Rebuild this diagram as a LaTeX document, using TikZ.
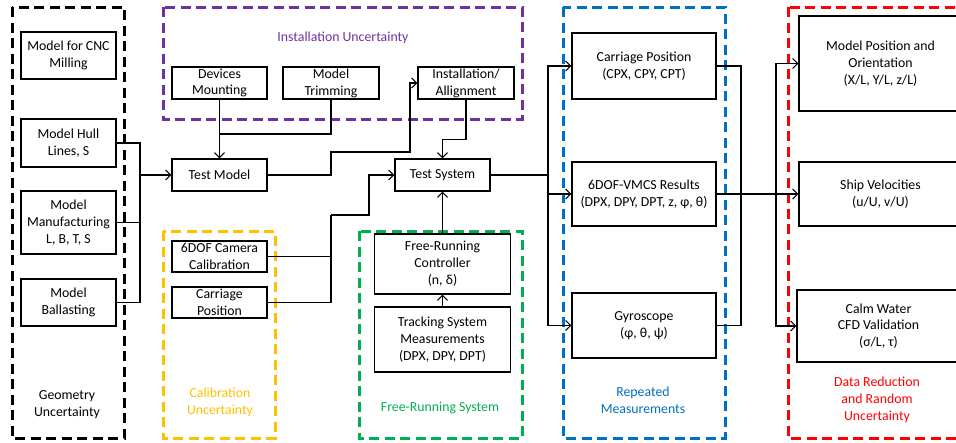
\documentclass[tikz,border=0pt]{standalone}
\usepackage{fontspec}
\setmainfont{Carlito}
\usetikzlibrary{arrows.meta}
\definecolor{cpurple}{HTML}{7030A0}
\definecolor{cyellow}{HTML}{FFC000}
\definecolor{cgreen}{HTML}{00B050}
\definecolor{cblue}{HTML}{0070C0}
\definecolor{cred}{HTML}{FF0000}
\tikzset{
  bx/.style={draw, line width=1.3pt, align=center, inner sep=0pt, font=\fontsize{13.8}{16.8}\selectfont},
  grp/.style={line width=3pt, dash pattern=on 10pt off 5.5pt},
  lbl/.style={align=center, font=\fontsize{13.8}{16.8}\selectfont},
  conn/.style={line width=1.3pt},
  arr/.style={conn, -{Straight Barb[length=5pt,width=10pt,line width=1.1pt]}}
}
\newcommand{\bxat}[6]{\node[bx, minimum width=#4pt, minimum height=#5pt] (#1) at (#2,#3) {#6};}
\begin{document}
\begin{tikzpicture}[x=1pt,y=-1pt]
\useasboundingbox (0,0) rectangle (956,442);
\clip (0,0) rectangle (956,442);
% group frames
\draw[grp, black] (12,7) rectangle (124,438);
\draw[grp, cpurple] (163,7) rectangle (522,119);
\draw[grp, cyellow] (163,231) rectangle (275,438);
\draw[grp, cgreen] (359,231) rectangle (522,438);
\draw[grp, cblue] (563,7) rectangle (725,438);
\draw[grp, cred] (788,7) rectangle (975,438);
% group labels
\node[lbl] (lgeo) at (67,405) {Geometry\\Uncertainty};
\node[lbl, text=cpurple] (linst) at (343,38) {Installation Uncertainty};
\node[lbl, text=cyellow] (lcal) at (220,402) {Calibration\\Uncertainty};
\node[lbl, text=cgreen] (lfree) at (440,408) {Free-Running System};
\node[lbl, text=cblue] (lrep) at (643,400) {Repeated\\Measurements};
\node[lbl, text=cred] (ldata) at (877,400) {Data Reduction\\and Random\\Uncertainty};
% boxes
\bxat{cnc}{68.5}{55.5}{95}{47}{Model for CNC\\Milling}
\bxat{hull}{68.5}{143}{95}{48}{Model Hull\\Lines, S}
\bxat{manuf}{68.5}{222.5}{95}{63}{Model\\Manufacturing\\L, B, T, S}
\bxat{ballast}{68.5}{302.5}{95}{47}{Model\\Ballasting}
\bxat{devices}{219.5}{83}{95}{32}{Devices\\Mounting}
\bxat{trim}{331}{83}{96}{32}{Model\\Trimming}
\bxat{inst}{466}{83}{96}{32}{Installation/\\Allignment}
\bxat{tmodel}{219.5}{175}{95}{32}{Test Model}
\bxat{tsys}{442.5}{175}{95}{32}{Test System}
\bxat{camcal}{219.5}{256.5}{95}{31}{6DOF Camera\\Calibration}
\bxat{carpos}{219.5}{302.5}{95}{31}{Carriage\\Position}
\bxat{frc}{442.5}{264}{136}{60}{Free-Running\\Controller\\(n, δ)}
\bxat{tsm}{442.5}{339.5}{136}{65}{Tracking System\\Measurements\\(DPX, DPY, DPT)}
\bxat{cp}{644}{66}{144}{66}{Carriage Position\\(CPX, CPY, CPT)}
\bxat{vmcs}{644}{194}{144}{64}{6DOF-VMCS Results\\(DPX, DPY, DPT, z, φ, θ)}
\bxat{gyro}{644}{325.5}{144}{65}{Gyroscope\\(φ, θ, ψ)}
\bxat{mpo}{880.5}{63.5}{163}{95}{Model Position and\\Orientation\\(X/L, Y/L, z/L)}
\bxat{sv}{880.5}{194}{163}{64}{Ship Velocities\\(u/U, v/U)}
\bxat{cw}{878.5}{326}{163}{72}{Calm Water\\CFD Validation\\(σ/L, τ)}
% connectors: geometry
\coordinate (jg) at (140,175);
\draw[conn] (hull.east) -| (jg);
\draw[conn] (ballast.east) -| (jg);
\draw[conn] (manuf.east) -- (manuf.east -| jg);
\draw[arr] (jg) -- (tmodel.west);
% installation
\coordinate (jt) at (219.5,134);
\draw[arr] (devices.south) -- (tmodel.north);
\draw[conn] (trim.south) |- (jt);
\draw[arr] (tmodel.east) -| (331,152) -| (410,83) -- (inst.west);
\draw[arr] (inst.south) -- ++(0,40) -| (tsys.north);
% calibration
\coordinate (jc) at (331,215);
\draw[conn] (carpos.east) -| (jc);
\draw[conn] (camcal.east) -- (camcal.east -| jc);
\draw[arr] (jc) -- (369,215) |- (tsys.west);
% free running
\draw[arr] (tsm.north) -- (frc.south);
\draw[arr] (frc.north) -- (tsys.south);
% repeated
\coordinate (js) at (548,175);
\draw[conn] (tsys.east) -- (js);
\draw[arr] (js) |- (cp.west);
\draw[arr] (js) |- (vmcs.west);
\draw[arr] (js) |- (gyro.west);
% outputs
\coordinate (jo) at (741,194);
\coordinate (jr) at (776,194);
\draw[conn] (cp.east) -| (jo);
\draw[conn] (gyro.east) -| (jo);
\draw[conn] (vmcs.east) -- (jo) -- (jr);
\draw[arr] (jr) |- (mpo.west);
\draw[arr] (jr) -- (sv.west);
\draw[arr] (jr) |- (cw.west);
\end{tikzpicture}
\end{document}
